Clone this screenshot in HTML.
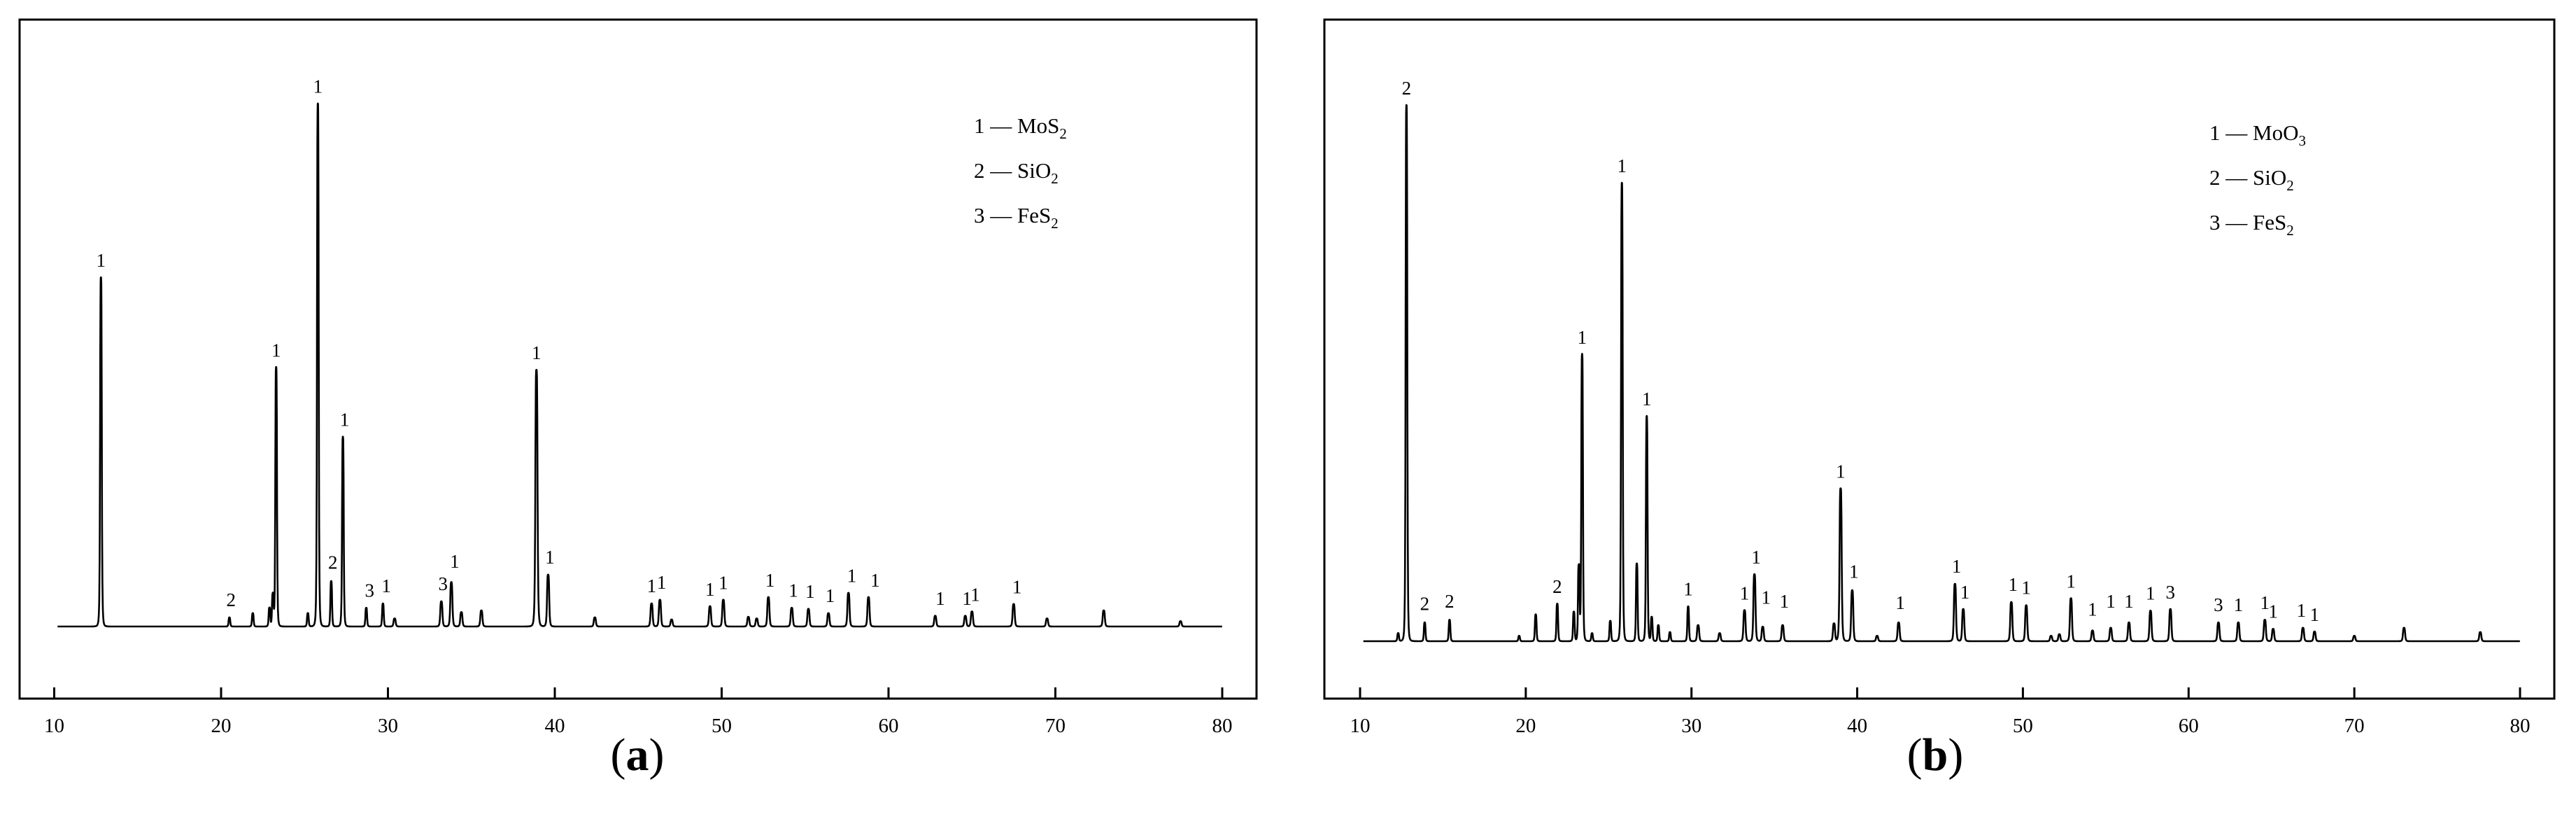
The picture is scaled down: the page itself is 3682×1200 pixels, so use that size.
<!DOCTYPE html>
<html><head><meta charset="utf-8"><style>
html,body{margin:0;padding:0;background:#fff}
svg{display:block}
text{font-family:"Liberation Serif",serif;fill:#000}
</style></head><body>
<svg id="chart" width="3682" height="1200" viewBox="0 0 3682 1200" xmlns="http://www.w3.org/2000/svg">
<rect x="28" y="28" width="1768" height="970" fill="none" stroke="#000" stroke-width="3"/>
<rect x="1893" y="28" width="1758" height="970" fill="none" stroke="#000" stroke-width="3"/>
<g id="ga"></g>
<g id="gb"></g>
<text x="911" y="1100" font-size="66" text-anchor="middle">(<tspan font-weight="bold">a</tspan>)</text>
<text x="2766" y="1100" font-size="66" text-anchor="middle">(<tspan font-weight="bold">b</tspan>)</text>
</svg>
<script>
const ticks = [10,20,30,40,50,60,70,80];
const peaksA_x = [12.8,20.5,21.9,22.9,23.1,23.3,25.2,25.8,26.6,27.3,28.7,29.7,30.4,33.2,33.8,34.4,35.6,38.9,39.6,42.4,45.8,46.3,47,49.3,50.1,51.6,52.1,52.8,54.2,55.2,56.4,57.6,58.8,62.8,64.6,65,67.5,69.5,72.9,77.5];
const peaksA_h = [653,17,25,35,60,485,25,978,85,355,35,43,15,47,83,27,30,480,97,17,43,50,13,38,50,18,15,55,35,33,25,63,55,20,20,28,42,15,30,10];
const labelsA_x = [12.8,20.6,23.3,25.8,26.7,27.4,28.9,29.9,33.3,34.0,38.9,39.7,45.8,46.4,49.3,50.1,52.9,54.3,55.3,56.5,57.8,59.2,63.1,64.7,65.2,67.7];
const labelsA_t = ["1","2","1","1","2","1","3","1","3","1","1","1","1","1","1","1","1","1","1","1","1","1","1","1","1","1"];
const labelsA_h = [665,30,497,990,100,367,48,56,60,102,492,110,56,63,50,62,67,48,46,38,75,67,33,33,40,54];
const peaksB_x = [12.3,12.8,13.9,15.4,19.6,20.6,21.9,22.9,23.2,23.4,24,25.1,25.8,26.7,27.3,27.6,28.0,28.7,29.8,30.4,31.7,33.2,33.8,34.3,35.5,38.6,39.0,39.7,41.2,42.5,45.9,46.4,49.3,50.2,51.7,52.2,52.9,54.2,55.3,56.4,57.7,58.9,61.8,63,64.6,65.1,66.9,67.6,70,73,77.6];
const peaksB_h = [15,1000,35,40,10,50,70,55,140,535,15,38,855,145,420,45,30,17,65,30,15,58,125,27,30,33,285,95,10,35,107,60,73,67,10,13,80,20,25,35,57,60,35,35,40,23,25,18,10,25,17];
const labelsB_x = [12.8,13.9,15.4,21.9,23.4,25.8,27.3,29.8,33.2,33.9,34.5,35.6,39.0,39.8,42.6,46.0,46.5,49.4,50.2,52.9,54.2,55.3,56.4,57.7,58.9,61.8,63.0,64.6,65.1,66.8,67.6];
const labelsB_t = ["2","2","2","2","1","1","1","1","1","1","1","1","1","1","1","1","1","1","1","1","1","1","1","1","3","3","1","1","1","1","1"];
const labelsB_h = [1012,50,55,82,547,867,432,78,70,137,62,55,297,110,52,120,72,86,80,92,40,55,55,70,72,48,48,52,36,38,30];
const legendA = [["1","MoS","2"],["2","SiO","2"],["3","FeS","2"]];
const legendB = [["1","MoO","3"],["2","SiO","2"],["3","FeS","2"]];
const NS="http://www.w3.org/2000/svg";
function mk(tag,attrs,parent){const e=document.createElementNS(NS,tag);for(const k in attrs)e.setAttribute(k,attrs[k]);parent.appendChild(e);return e;}
function panel(g,cfg,px,ph,lx,lt,lh,leg){
  const X=v=>cfg.x0+(v-10)*(cfg.x1-cfg.x0)/70;
  const Y=h=>cfg.base-h*cfg.sc;
  // ticks
  ticks.forEach(t=>{
    const l=mk('line',{x1:X(t),x2:X(t),y1:998,y2:982,stroke:'#000','stroke-width':3},g);
    
    
    const tx=mk('text',{x:X(t),y:1046,'font-size':29,'text-anchor':'middle'},g);
    tx.textContent=t;
    
    
  });
  // spectrum
  let d='';
  for(let v=10.2;v<=80;v+=0.01){
    let s=0;
    for(let i=0;i<px.length;i++){const w=px[i]<30?0.07:0.09;const z=(v-px[i])/w;s+=ph[i]/(1+z*z*z*z*2.5);}
    d+=(d?'L':'M')+X(v).toFixed(1)+' '+Y(s).toFixed(1);
  }
  const p=mk('path',{d:d,fill:'none',stroke:'#000','stroke-width':2.6,'stroke-linejoin':'round'},g);
  
  
  lx.forEach((v,i)=>{
    const t=mk('text',{x:X(v),y:Y(lh[i])-6,'font-size':27,'text-anchor':'middle'},g);
    t.textContent=lt[i];
    
    
  });
  leg.forEach((r,i)=>{
    const t=mk('text',{x:cfg.lx,y:cfg.ly+i*64,'font-size':31},g);
    
    
    t.innerHTML=r[0]+' — '+r[1]+'<tspan font-size="21" dy="8">'+r[2]+'</tspan>';
  });
}
panel(document.getElementById('ga'),{x0:77.5,x1:1747,base:895,sc:0.764,lx:1392,ly:190},peaksA_x,peaksA_h,labelsA_x,labelsA_t,labelsA_h,legendA);
panel(document.getElementById('gb'),{x0:1944,x1:3602,base:916,sc:0.766,lx:3158,ly:200},peaksB_x,peaksB_h,labelsB_x,labelsB_t,labelsB_h,legendB);
</script>
</body></html>
